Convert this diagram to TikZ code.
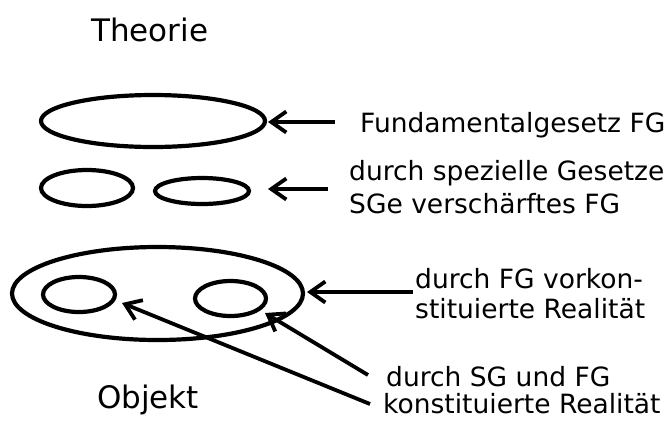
\documentclass[tikz,border=0pt]{standalone}
\usepackage{fontspec}
\setmainfont{DejaVu Sans}
\usetikzlibrary{shapes.geometric,arrows.meta}
\tikzset{
  ell/.style={draw, ellipse, line width=4.2pt, inner sep=0pt},
  arr/.style={line width=3.8pt, -{Straight Barb[length=15pt,width=21pt]}},
  lbl/.style={anchor=base west, inner sep=0pt, font=\fontsize{26.5}{33}\selectfont},
  ttl/.style={anchor=base west, inner sep=0pt, font=\fontsize{31}{36}\selectfont}
}
\begin{document}
\begin{tikzpicture}[x=1pt,y=-1pt]
\useasboundingbox (0,0) rectangle (668,421);
% titles
\node[ttl] (theorie) at (91,41) {Theorie};
\node[ttl] (objekt) at (97,408) {Objekt};
% ellipses
\node[ell, minimum width=224pt, minimum height=52pt] (E1) at (153,121) {};
\node[ell, minimum width=92pt, minimum height=36pt] (E2) at (87,188) {};
\node[ell, minimum width=94pt, minimum height=26pt] (E3) at (202,191) {};
\node[ell, minimum width=291pt, minimum height=93pt] (E4) at (157.5,293.5) {};
\node[ell, minimum width=72pt, minimum height=35pt] (E5) at (79,294.5) {};
\node[ell, minimum width=71pt, minimum height=35pt] (E6) at (230.5,298.5) {};
% labels
\node[lbl] (L1) at (360,132) {Fundamentalgesetz FG};
\node[lbl] (L2) at (349,180) {\begin{tabular}[t]{@{}l@{}}durch spezielle Gesetze\\SGe verschärftes FG\end{tabular}};
\node[lbl] (L3) at (415,288) {\fontsize{26.5}{30}\selectfont\begin{tabular}[t]{@{}l@{}}durch FG vorkon-\\stituierte Realität\end{tabular}};
\node[lbl] (L4) at (383,386) {\fontsize{26.5}{25}\selectfont\begin{tabular}[t]{@{}l@{}}\hspace{3pt}durch SG und FG\\konstituierte Realität\end{tabular}};
% connector ends
\coordinate (s1) at (335,122);
\coordinate (t1) at (268,122);
\coordinate (s2) at (328,189);
\coordinate (t2) at (268,189);
\coordinate (s3) at (413,292);
\coordinate (t3) at (307,292);
\coordinate (s4) at (368,375);
\coordinate (t4) at (265,313);
\coordinate (s5) at (370,404);
\coordinate (t5) at (122,303);
% arrows
\draw[arr] (s1) -- (t1);
\draw[arr] (s2) -- (t2);
\draw[arr] (s3) -- (t3);
\draw[arr] (s4) -- (t4);
\draw[arr] (s5) -- (t5);
\end{tikzpicture}
\end{document}
